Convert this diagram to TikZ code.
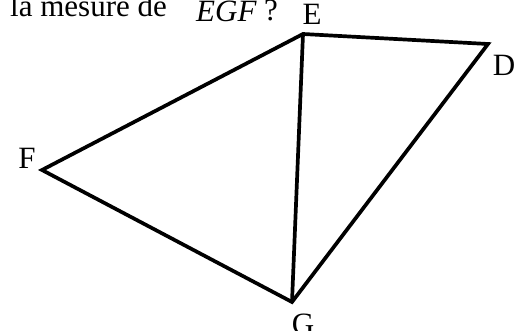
\documentclass[tikz,border=0pt]{standalone}
\usepackage{fontspec}
\setmainfont{Liberation Serif}
\begin{document}
\begin{tikzpicture}[x=1pt,y=-1pt,
  edge/.style={line width=3.7pt,line join=miter,line cap=round},
  lbl/.style={inner sep=0pt,font=\fontsize{31}{36}\selectfont}]
\useasboundingbox (0,0) rectangle (522,331);
\node[lbl,anchor=base west] (t1) at (10,17) {la mesure de};
\node[lbl,anchor=base west] (t2) at (196,22) {\itshape EGF};
\node[lbl,anchor=base west] (t3) at (264,21) {?};
\coordinate (E) at (303,34);
\coordinate (D) at (488,44);
\coordinate (F) at (42,170);
\coordinate (G) at (292,302);
\draw[edge] (E) -- (D) -- (G) -- (F) -- cycle;
\draw[edge] (E) -- (G);
\node[lbl,anchor=base] (lE) at (312,25) {E};
\node[lbl,anchor=base] (lD) at (504,76) {D};
\node[lbl,anchor=base] (lF) at (27,169) {F};
\node[lbl,anchor=base] (lG) at (303,334) {G};
\end{tikzpicture}
\end{document}
